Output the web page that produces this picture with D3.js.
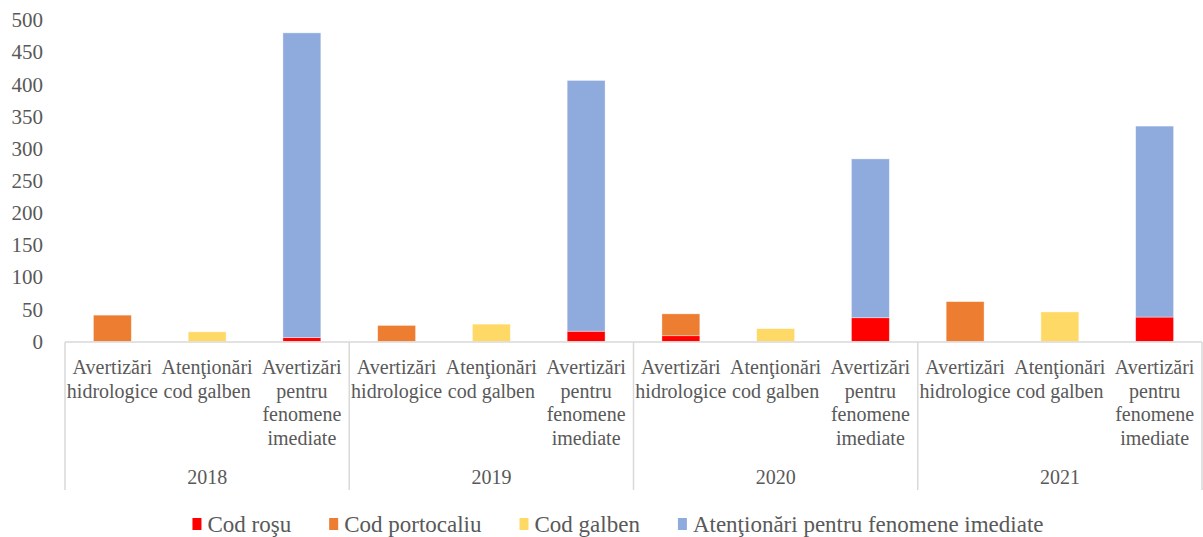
<!DOCTYPE html>
<html>
<head>
<meta charset="utf-8">
<script src="https://cdn.jsdelivr.net/npm/d3@7"></script>
<style>
  html, body { margin: 0; padding: 0; background: #fff; }
  svg { display: block; }
  text { font-family: "Liberation Serif", "Times New Roman", serif; fill: #595959; }
</style>
</head>
<body>
<svg id="chart" width="1203" height="537"></svg>
<script>
// ---- data ----
const years = ["2018", "2019", "2020", "2021"];
const categories = ["Avertizări hidrologice", "Atenţionări cod galben", "Avertizări pentru fenomene imediate"];
const seriesNames = ["Cod roşu", "Cod portocaliu", "Cod galben", "Atenţionări pentru fenomene imediate"];
const seriesColors = ["#FF0000", "#ED7D31", "#FFD966", "#8FAADC"];
// values in order year x category
const codRosu       = [0, 0, 6,   0, 0, 16,   9, 0, 37,   0, 0, 38];
const codPortocaliu = [41, 0, 0,  25, 0, 0,   34, 0, 0,   62, 0, 0];
const codGalben     = [0, 15, 0,  0, 27, 0,   0, 20, 0,   0, 46, 0];
const atentionari   = [0, 0, 474, 0, 0, 390,  0, 0, 247,  0, 0, 297];
const yTicks = [0, 50, 100, 150, 200, 250, 300, 350, 400, 450, 500];

(function () {
  const keys = ["rosu", "portocaliu", "galben", "atentionari"];
  const rows = [];
  years.forEach((yr, yi) => {
    categories.forEach((cat, ci) => {
      const i = yi * categories.length + ci;
      rows.push({ year: yr, cat: cat, rosu: codRosu[i], portocaliu: codPortocaliu[i], galben: codGalben[i], atentionari: atentionari[i] });
    });
  });

  const svg = d3.select("#chart");
  const pLeft = 65, pRight = 1202, pTop = 20, pBottom = 341.5;
  const axisColor = "#D9D9D9";
  const fontSize = 20;

  const x0 = d3.scaleBand().domain(years).range([pLeft, pRight]).padding(0);
  const x1 = d3.scaleBand().domain(categories).range([0, x0.bandwidth()]).paddingInner(0.6).paddingOuter(0.3);
  const y = d3.scaleLinear().domain([0, 500]).range([pBottom, pTop]);

  const yAxis = d3.axisLeft(y).tickValues(yTicks).tickSize(0).tickPadding(0);
  const gy = svg.append("g").attr("transform", "translate(43,0)").call(yAxis);
  gy.select(".domain").remove();
  gy.selectAll("text").attr("font-size", 21).attr("font-family", "Liberation Serif").attr("fill", "#595959").attr("dy", "0.32em");

  const stacked = d3.stack().keys(keys)(rows);
  svg.append("g").selectAll("g").data(stacked).join("g")
    .attr("fill", (d, i) => seriesColors[i])
    .selectAll("rect").data(d => d.filter(p => p[1] - p[0] > 0)).join("rect")
    .attr("x", d => x0(d.data.year) + x1(d.data.cat))
    .attr("width", x1.bandwidth())
    .attr("y", d => y(d[1]))
    .attr("height", d => y(d[0]) - y(d[1]))
    .attr("stroke", "#fff").attr("stroke-opacity", 0.5).attr("stroke-width", 0.75);

  svg.append("line").attr("x1", pLeft).attr("x2", pRight).attr("y1", pBottom + 0.5).attr("y2", pBottom + 0.5)
    .attr("stroke", axisColor).attr("stroke-width", 1.5);

  const sepBottom = 490;
  years.concat([null]).forEach(yr => {
    const xp = yr ? x0(yr) : pRight;
    svg.append("line").attr("x1", xp).attr("x2", xp).attr("y1", pBottom + 0.5).attr("y2", sepBottom)
      .attr("stroke", axisColor).attr("stroke-width", 1.5);
  });

  const maxW = x1.step() - 2;
  function wrap(label) {
    const words = label.split(" ");
    const lines = [];
    let cur = "";
    const tmp = svg.append("text").attr("font-size", fontSize);
    words.forEach(w => {
      const t = cur ? cur + " " + w : w;
      tmp.text(t);
      if (tmp.node().getComputedTextLength() > maxW && cur) { lines.push(cur); cur = w; }
      else cur = t;
    });
    if (cur) lines.push(cur);
    tmp.remove();
    return lines;
  }
  const lineH = 23.5, firstLineY = 367;
  rows.forEach(r => {
    const cx = x0(r.year) + x1(r.cat) + x1.bandwidth() / 2;
    const lines = wrap(r.cat);
    const t = svg.append("text").attr("text-anchor", "middle").attr("font-size", fontSize);
    lines.forEach((ln, li) => {
      t.append("tspan").attr("x", cx).attr("y", firstLineY + li * lineH).attr("dy", "0.35em").text(ln);
    });
  });

  years.forEach(yr => {
    svg.append("text").attr("x", x0(yr) + x0.bandwidth() / 2).attr("y", 477).attr("dy", "0.35em")
      .attr("text-anchor", "middle").attr("font-size", fontSize).text(yr);
  });

  const legendY = 524, sqW = 9, sqH = 12, gapSq = 6, gapItem = 38, legendCenter = 618, legendFont = 23;
  const lg = svg.append("g");
  const items = seriesNames.map((name, i) => {
    const g = lg.append("g");
    g.append("rect").attr("width", sqW).attr("height", sqH).attr("y", legendY - sqH / 2).attr("fill", seriesColors[i]);
    const t = g.append("text").attr("x", sqW + gapSq).attr("y", legendY).attr("dy", "0.35em").attr("font-size", legendFont).text(name);
    return { g, w: sqW + gapSq + t.node().getComputedTextLength() };
  });
  const total = d3.sum(items, d => d.w) + gapItem * (items.length - 1);
  let lx = legendCenter - total / 2;
  items.forEach(it => { it.g.attr("transform", `translate(${lx},0)`); lx += it.w + gapItem; });
})();
</script>
</body>
</html>
